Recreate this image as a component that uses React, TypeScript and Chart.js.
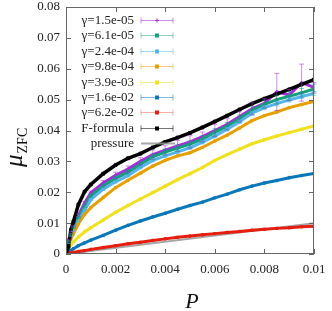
import React, { useEffect, useRef } from "react";
import { Chart, registerables } from "chart.js";
Chart.register(...registerables);

// pressure values (x)
const P = [0, 0.0001, 0.0002, 0.0003, 0.0005, 0.00075, 0.001, 0.0015, 0.002, 0.0025, 0.003, 0.0035, 0.004, 0.0045, 0.005, 0.0055, 0.006, 0.0065, 0.007, 0.0075, 0.008, 0.0085, 0.009, 0.0095, 0.01];

const mu_g15e5 = [0, 0.0045, 0.007, 0.009, 0.0125, 0.0165, 0.0198, 0.023, 0.0255, 0.0275, 0.030, 0.0322, 0.0336, 0.035, 0.0363, 0.038, 0.04, 0.042, 0.0445, 0.047, 0.0488, 0.0525, 0.0515, 0.0555, 0.054];
const err_g15e5 = [0, 0.0003, 0.0003, 0.0003, 0.0004, 0.0005, 0.0006, 0.0008, 0.001, 0.001, 0.0012, 0.0015, 0.0015, 0.0018, 0.002, 0.0015, 0.002, 0.0018, 0.0015, 0.002, 0.0015, 0.006, 0.0018, 0.006, 0.0015];
const mu_g61e5 = [0, 0.0042, 0.0065, 0.0085, 0.0118, 0.0155, 0.0188, 0.022, 0.0245, 0.0265, 0.029, 0.0315, 0.033, 0.0343, 0.0356, 0.0372, 0.0394, 0.0414, 0.0438, 0.0465, 0.0485, 0.05, 0.0511, 0.0522, 0.0535];
const err_g61e5 = [0, 0.0002, 0.0002, 0.0003, 0.0003, 0.0004, 0.0005, 0.0006, 0.0007, 0.0008, 0.0008, 0.0009, 0.001, 0.001, 0.001, 0.0011, 0.0012, 0.0012, 0.0012, 0.0013, 0.0013, 0.0014, 0.0014, 0.0014, 0.0015];
const mu_g24e4 = [0, 0.0035, 0.0058, 0.0075, 0.0105, 0.0142, 0.0176, 0.021, 0.0234, 0.0254, 0.028, 0.0303, 0.0318, 0.0331, 0.0344, 0.0362, 0.0382, 0.0404, 0.0428, 0.0456, 0.0474, 0.0487, 0.0499, 0.051, 0.052];
const err_g24e4 = [0, 0.0001, 0.0002, 0.0002, 0.0002, 0.0003, 0.0003, 0.0003, 0.0004, 0.0004, 0.0004, 0.0005, 0.0005, 0.0005, 0.0005, 0.0006, 0.0006, 0.0006, 0.0006, 0.0006, 0.0007, 0.0007, 0.0007, 0.0007, 0.0007];
const mu_g98e4 = [0, 0.0028, 0.005, 0.0065, 0.0098, 0.0128, 0.015, 0.0183, 0.0215, 0.0239, 0.0262, 0.0285, 0.0303, 0.0318, 0.0328, 0.0345, 0.0366, 0.0385, 0.0408, 0.0432, 0.0448, 0.046, 0.0474, 0.0484, 0.0494];
const mu_g39e3 = [0, 0.0018, 0.003, 0.0039, 0.0055, 0.0072, 0.0085, 0.011, 0.0135, 0.0157, 0.0178, 0.0199, 0.022, 0.0241, 0.026, 0.028, 0.0303, 0.0322, 0.034, 0.0357, 0.037, 0.0382, 0.0393, 0.0404, 0.0415];
const mu_g16e2 = [0, 0.0006, 0.0012, 0.0017, 0.0027, 0.0036, 0.0045, 0.006, 0.0077, 0.0093, 0.0107, 0.012, 0.0132, 0.0145, 0.0157, 0.0168, 0.0182, 0.0194, 0.0208, 0.022, 0.023, 0.0238, 0.0247, 0.0254, 0.0261];
const mu_g62e2 = [0, 0.0002, 0.0004, 0.0005, 0.0008, 0.0011, 0.0015, 0.0021, 0.0027, 0.0033, 0.0038, 0.0044, 0.0049, 0.0054, 0.0058, 0.0062, 0.0066, 0.007, 0.0073, 0.0077, 0.008, 0.0083, 0.0085, 0.0088, 0.009];
const mu_Fformula = [0, 0.0024, 0.0078, 0.0105, 0.016, 0.0202, 0.0225, 0.026, 0.0288, 0.031, 0.0325, 0.0345, 0.0363, 0.0377, 0.0392, 0.041, 0.0429, 0.0448, 0.0468, 0.0487, 0.0503, 0.0518, 0.0533, 0.0549, 0.0565];
const P_pressure = [0, 0.01];
const mu_pressure = [0, 0.01];

const xTicks = [0, 0.002, 0.004, 0.006, 0.008, 0.01];
const yTicks = [0, 0.01, 0.02, 0.03, 0.04, 0.05, 0.06, 0.07, 0.08];

const labels = ["γ=1.5e-05", "γ=6.1e-05", "γ=2.4e-04", "γ=9.8e-04", "γ=3.9e-03", "γ=1.6e-02", "γ=6.2e-02", "F-formula", "pressure"];

const SERIF = "'Liberation Serif', 'DejaVu Serif', serif";

type S = { label: string; mu: number[]; err?: number[]; color: string; light: string; style: string };
const series: S[] = [
  { label: labels[0], mu: mu_g15e5, err: err_g15e5, color: "#a030d8", light: "rgba(160,48,216,0.55)", style: "cross" },
  { label: labels[1], mu: mu_g61e5, err: err_g61e5, color: "#12a07a", light: "rgba(18,160,122,0.5)", style: "rect" },
  { label: labels[2], mu: mu_g24e4, err: err_g24e4, color: "#56b4e9", light: "rgba(86,180,233,0.5)", style: "rect" },
  { label: labels[3], mu: mu_g98e4, color: "#e69f00", light: "rgba(230,159,0,0.5)", style: "rect" },
  { label: labels[4], mu: mu_g39e3, color: "#f0e020", light: "rgba(240,228,66,0.6)", style: "rect" },
  { label: labels[5], mu: mu_g16e2, color: "#0a78b8", light: "rgba(0,114,178,0.5)", style: "rect" },
  { label: labels[6], mu: mu_g62e2, color: "#e51e10", light: "rgba(229,30,16,0.35)", style: "rect" },
  { label: labels[7], mu: mu_Fformula, color: "#000000", light: "rgba(0,0,0,0.55)", style: "rect" },
];

const AREA = { left: 66, top: 7, right: 314, bottom: 254 };

export default function App() {
  const ref = useRef<HTMLCanvasElement>(null);
  useEffect(() => {
    const canvas = ref.current!;
    const datasets: any[] = series.map((s, i) => ({
      label: s.label,
      data: P.map((p, k) => ({ x: p, y: s.mu[k] })),
      borderColor: s.color,
      backgroundColor: s.color,
      borderWidth: i === 7 ? 3.5 : 3,
      pointRadius: i === 7 ? 2 : 1.6,
      pointStyle: s.style,
      pointBorderWidth: 1,
      tension: 0,
      order: 20 - i,
    }));
    datasets.push({
      label: labels[8],
      data: P_pressure.map((p, k) => ({ x: p, y: mu_pressure[k] })),
      borderColor: "rgba(150,150,150,0.85)",
      borderWidth: 2,
      pointRadius: 0,
      order: 15,
    });

    const decor = {
      id: "decor",
      afterDatasetsDraw(chart: any) {
        const ctx = chart.ctx;
        const xs = chart.scales.x, ys = chart.scales.y;
        series.forEach((s) => {
          if (!s.err) return;
          ctx.save();
          ctx.strokeStyle = s.light;
          ctx.lineWidth = 1;
          P.forEach((p, k) => {
            const e = s.err![k];
            if (!e) return;
            const x = xs.getPixelForValue(p);
            const y1 = ys.getPixelForValue(s.mu[k] - e);
            const y2 = ys.getPixelForValue(s.mu[k] + e);
            ctx.beginPath();
            ctx.moveTo(x, y1); ctx.lineTo(x, y2);
            ctx.moveTo(x - 2.5, y1); ctx.lineTo(x + 2.5, y1);
            ctx.moveTo(x - 2.5, y2); ctx.lineTo(x + 2.5, y2);
            ctx.stroke();
          });
          ctx.restore();
        });
      },
      afterDraw(chart: any) {
        const ctx = chart.ctx;
        const a = chart.chartArea;
        const xs = chart.scales.x, ys = chart.scales.y;
        ctx.save();
        ctx.strokeStyle = "#666";
        ctx.lineWidth = 1;
        ctx.strokeRect(a.left + 0.5, a.top + 0.5, a.right - a.left - 1, a.bottom - a.top - 1);
        ctx.beginPath();
        xTicks.forEach((t) => {
          const x = Math.round(xs.getPixelForValue(t)) + 0.5;
          ctx.moveTo(x, a.bottom); ctx.lineTo(x, a.bottom - 5);
          ctx.moveTo(x, a.top); ctx.lineTo(x, a.top + 5);
        });
        yTicks.forEach((t) => {
          const y = Math.round(ys.getPixelForValue(t)) + 0.5;
          ctx.moveTo(a.left, y); ctx.lineTo(a.left + 5, y);
          ctx.moveTo(a.right, y); ctx.lineTo(a.right - 5, y);
        });
        ctx.stroke();

        // legend
        const rowY0 = 20, dy = 15.4, tx = 134, l0 = 141, l1 = 173;
        ctx.font = `13px ${SERIF}`;
        ctx.textAlign = "right";
        ctx.textBaseline = "middle";
        ctx.fillStyle = "#222";
        labels.forEach((lab, i) => {
          const y = Math.round(rowY0 + i * dy) + 0.5;
          ctx.fillText(lab, tx, y);
          if (i < series.length) {
            const s = series[i];
            ctx.strokeStyle = s.light;
            ctx.lineWidth = 1;
            ctx.beginPath();
            ctx.moveTo(l0, y); ctx.lineTo(l1, y);
            ctx.moveTo(l0, y - 3); ctx.lineTo(l0, y + 3);
            ctx.moveTo(l1, y - 3); ctx.lineTo(l1, y + 3);
            ctx.stroke();
            ctx.fillStyle = s.color;
            if (s.style === "cross") {
              ctx.strokeStyle = s.color;
              ctx.beginPath();
              ctx.moveTo(157 - 2, y); ctx.lineTo(157 + 2, y);
              ctx.moveTo(157, y - 2); ctx.lineTo(157, y + 2);
              ctx.stroke();
            } else {
              ctx.fillRect(155, y - 2, 4, 4);
            }
            ctx.fillStyle = "#222";
          } else {
            ctx.strokeStyle = "rgba(150,150,150,0.85)";
            ctx.lineWidth = 2;
            ctx.beginPath();
            ctx.moveTo(l0, y); ctx.lineTo(l1 + 2, y);
            ctx.stroke();
          }
        });

        // axis titles
        ctx.fillStyle = "#111";
        ctx.textAlign = "center";
        ctx.textBaseline = "alphabetic";
        ctx.font = `italic 22px ${SERIF}`;
        ctx.fillText("P", 192, 308);

        ctx.translate(22, 167);
        ctx.rotate(-Math.PI / 2);
        ctx.textAlign = "left";
        ctx.font = `italic 25px ${SERIF}`;
        ctx.fillText("μ", 0, 0);
        const w = ctx.measureText("μ").width;
        ctx.font = `14px ${SERIF}`;
        ctx.fillText("ZFC", w + 1, 5);
        ctx.restore();
      },
    };

    const fmt = (d: number) => (v: any) => Number(v).toFixed(d).replace(/0+$/, "").replace(/\.$/, "");

    const chart = new Chart(canvas, {
      type: "line",
      data: { datasets },
      options: {
        animation: false,
        responsive: false,
        devicePixelRatio: 1,
        events: [],
        layout: { padding: { left: 0, top: AREA.top, right: 332 - AREA.right, bottom: 0 } },
        plugins: { legend: { display: false }, tooltip: { enabled: false } },
        scales: {
          x: {
            type: "linear",
            min: 0,
            max: 0.01,
            afterBuildTicks: (sc: any) => { sc.ticks = xTicks.map((v) => ({ value: v })); },
            afterFit: (sc: any) => { sc.height = 311 - AREA.bottom; sc.paddingLeft = 0; sc.paddingRight = 0; sc.paddingTop = 0; sc.paddingBottom = 0; },
            grid: { display: false, drawTicks: false },
            border: { display: false },
            ticks: { callback: fmt(3), font: { family: SERIF, size: 13 }, color: "#222", padding: 8, maxRotation: 0, autoSkip: false },
          },
          y: {
            type: "linear",
            min: 0,
            max: 0.08,
            afterBuildTicks: (sc: any) => { sc.ticks = yTicks.map((v) => ({ value: v })); },
            afterFit: (sc: any) => { sc.width = AREA.left; sc.paddingTop = 0; sc.paddingBottom = 0; sc.paddingLeft = 0; sc.paddingRight = 0; },
            grid: { display: false, drawTicks: false },
            border: { display: false },
            ticks: { callback: fmt(2), font: { family: SERIF, size: 13 }, color: "#222", padding: 6, autoSkip: false },
          },
        },
      },
      plugins: [decor],
    } as any);
    return () => chart.destroy();
  }, []);

  return (
    <div style={{ position: "fixed", left: 0, top: 0, width: 332, height: 311, background: "#fff" }}>
      <canvas ref={ref} width={332} height={311} style={{ display: "block" }} />
    </div>
  );
}
